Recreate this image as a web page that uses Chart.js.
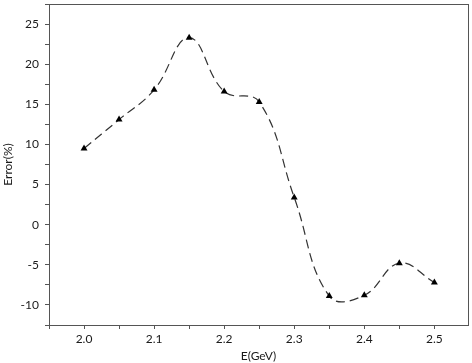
<!DOCTYPE html>
<html>
<head>
<meta charset="utf-8">
<script src="https://cdn.jsdelivr.net/npm/chart.js@4"></script>
<style>
  body { margin: 0; background: #ffffff; }
  #chart { display: block; }
</style>
</head>
<body>
<canvas id="chart" width="472" height="363"></canvas>
<script>
// Energia (GeV) e erro relativo (%)
const energias = [2.0, 2.05, 2.1, 2.15, 2.2, 2.25, 2.3, 2.35, 2.4, 2.45, 2.5];
const erros = [9.5, 13.1, 16.8, 23.3, 16.6, 15.3, 3.4, -8.9, -8.8, -4.8, -7.2];
const xTitulo = 'E(GeV)';
const yTitulo = 'Error(%)';

const corTexto = '#1a1a1a';
const corEixo = '#555555';
const fonte = { family: 'Lato', size: 12 };

// moldura em volta da área do gráfico
const moldura = {
    id: 'moldura',
    afterDraw(chart) {
        const a = chart.chartArea;
        const ctx = chart.ctx;
        ctx.save();
        ctx.strokeStyle = corEixo;
        ctx.lineWidth = 1;
        ctx.strokeRect(a.left + 0.5, a.top + 0.5, a.right - a.left, a.bottom - a.top);
        ctx.restore();
    }
};

new Chart(document.getElementById('chart'), {
    type: 'line',
    data: {
        datasets: [{
            data: energias.map((e, i) => ({ x: e, y: erros[i] })),
            borderColor: '#333333',
            borderWidth: 1.2,
            borderDash: [9, 5],
            tension: 0.42,
            fill: false,
            pointStyle: 'triangle',
            pointRadius: 4,
            pointBackgroundColor: '#000000',
            pointBorderColor: '#000000',
            pointBorderWidth: 0
        }]
    },
    options: {
        responsive: false,
        animation: false,
        layout: { padding: { top: 0, right: 2, left: 0, bottom: 0 } },
        plugins: { legend: { display: false }, tooltip: { enabled: false } },
        scales: {
            x: {
                type: 'linear',
                min: 1.95,
                max: 2.548,
                afterFit: (s) => { s.height = 38; s.paddingLeft = 0; s.paddingRight = 0; },
                border: { display: true, color: corEixo },
                grid: { drawOnChartArea: false, tickLength: 4, color: corEixo },
                ticks: {
                    stepSize: 0.05,
                    autoSkip: false,
                    maxRotation: 0,
                    includeBounds: false,
                    padding: 3,
                    color: corTexto,
                    font: fonte,
                    callback: (v) => Math.abs(v * 10 - Math.round(v * 10)) < 1e-6 ? v.toFixed(1) : ''
                },
                title: { display: true, text: xTitulo, color: corTexto, font: fonte, padding: { top: 0, bottom: 0 } }
            },
            y: {
                min: -12.5,
                max: 27.5,
                afterFit: (s) => { s.width = 49; s.paddingTop = 0; s.paddingBottom = 0; },
                border: { display: true, color: corEixo },
                grid: { drawOnChartArea: false, tickLength: 4, color: corEixo },
                ticks: {
                    stepSize: 2.5,
                    autoSkip: false,
                    includeBounds: false,
                    padding: 6,
                    color: corTexto,
                    font: fonte,
                    callback: (v) => Math.abs(v / 5 - Math.round(v / 5)) < 1e-6 ? String(Math.round(v)) : ''
                },
                title: { display: true, text: yTitulo, color: corTexto, font: fonte, padding: { top: 1, bottom: 0 } }
            }
        }
    },
    plugins: [moldura]
});
</script>
</body>
</html>
